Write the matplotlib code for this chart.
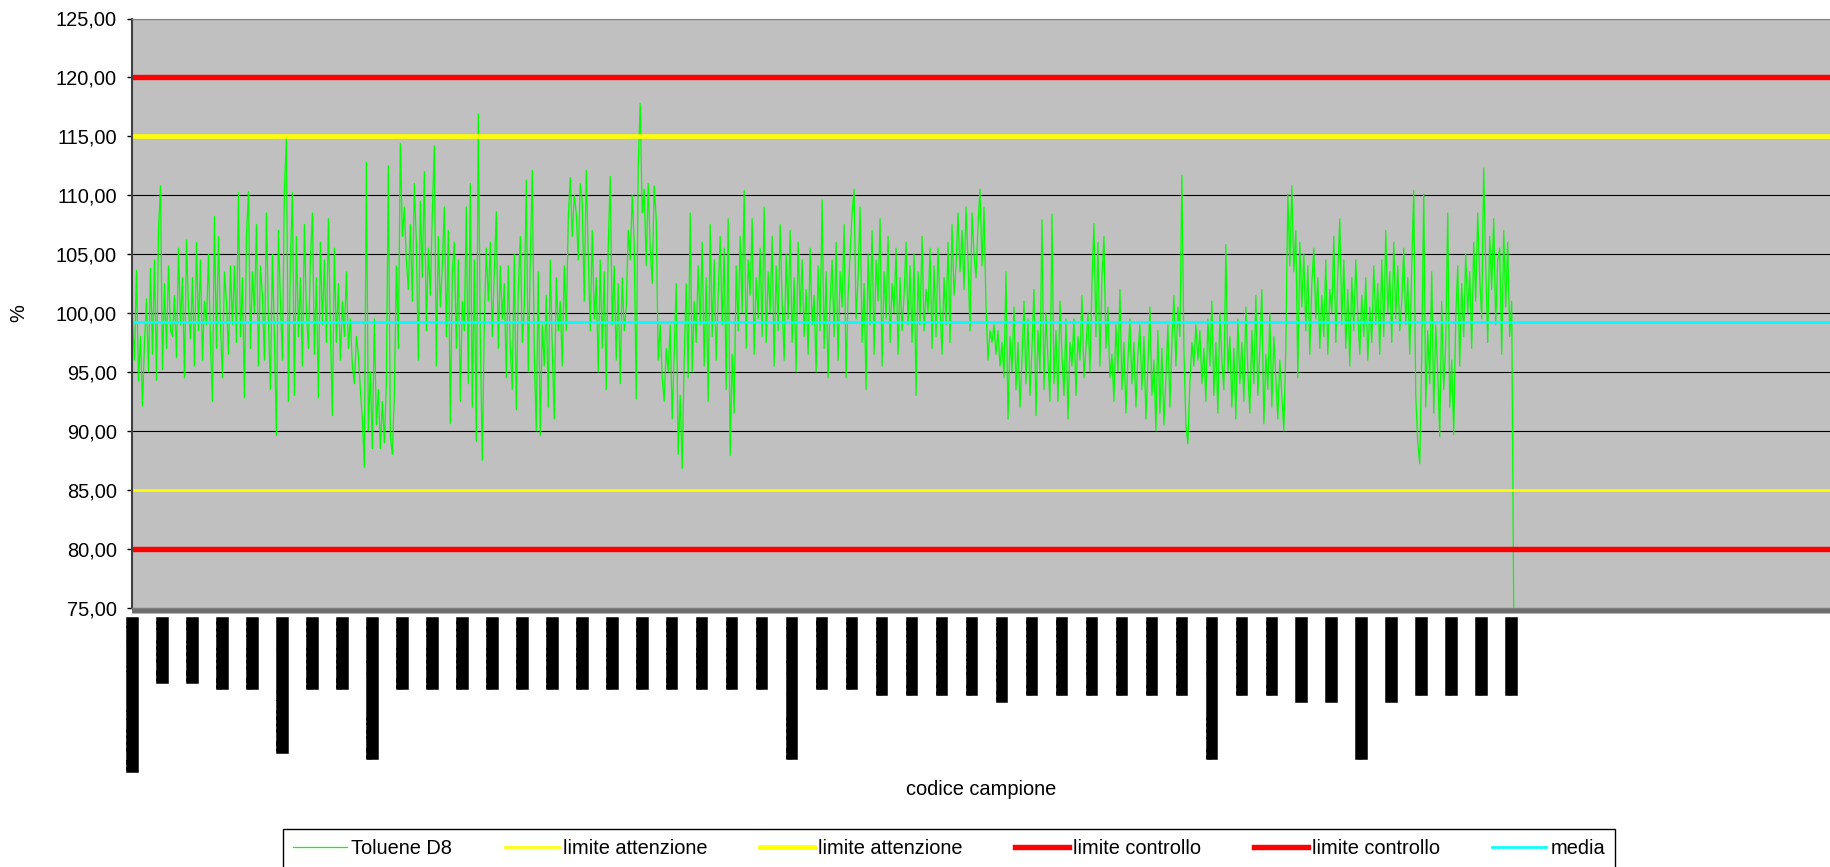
import numpy as np
import matplotlib
matplotlib.use("Agg")
from matplotlib import pyplot as plt
from matplotlib.ticker import FuncFormatter

# Toluene D8 (%), un valore ogni 2 categorie
toluene_1 = [
    99.5, 96.0, 103.6, 94.2, 98.0, 92.1, 97.5, 101.2, 95.0, 103.8,
    96.5, 104.5, 94.3, 107.0, 110.8, 95.2, 102.5, 97.0, 104.0, 98.5,
    98.0, 101.5, 96.2, 105.5, 99.0, 103.0, 94.5, 106.2, 100.5, 97.8,
    103.0, 95.5, 106.0, 98.5, 104.5, 96.0, 101.0, 99.0, 105.0, 97.5,
    92.5, 108.2, 97.0, 106.5, 99.0, 94.5, 103.5, 101.0, 96.5, 104.0,
    99.0, 104.0, 97.5, 110.2, 98.0, 103.0, 92.8, 106.5, 110.3, 97.0,
    103.5, 100.0, 107.5, 95.5, 104.0, 101.5, 96.0, 108.5, 99.5, 93.5,
    105.0, 98.0, 89.6, 107.0, 101.0, 96.0, 110.5, 114.9, 92.5, 104.5,
    110.2, 93.0, 106.5, 98.0, 103.0, 95.5, 107.5, 100.0, 97.0, 104.5,
    108.5, 96.5, 103.0, 92.8, 106.0, 99.0, 104.5, 97.5, 108.0, 98.5,
    91.3, 105.5, 97.5, 102.5, 96.0, 101.0, 98.0, 103.5, 97.0, 99.5,
    95.5, 94.0, 98.0, 96.5, 93.5, 91.0, 86.9, 112.8, 90.0, 95.0,
    88.5, 99.5, 90.5, 93.5, 88.5, 92.5, 89.0, 94.0, 112.5, 89.5,
    88.0, 93.0, 104.0, 97.0, 114.4, 106.5, 109.0, 104.5, 102.0, 107.5,
    101.0, 111.0, 106.0, 96.0, 109.5, 103.0, 112.0, 98.5, 105.5, 101.5,
    108.5, 114.2, 95.5, 106.5, 100.5, 104.0, 109.0, 98.0, 107.0, 90.6,
    103.5, 106.0, 97.0, 104.5, 92.5, 101.0, 98.5, 109.0, 94.0, 111.0,
    92.0, 104.5, 89.1, 116.9, 98.0,
]
toluene_2 = [
    87.5, 99.0, 105.5, 101.0, 106.0, 98.0, 103.5, 108.6, 97.0, 104.0,
    99.5, 102.5, 94.5, 104.0, 97.0, 93.5, 105.0, 91.8, 102.0, 106.5,
    97.5, 100.5, 111.3, 95.0, 104.5, 112.1, 96.5, 90.0, 103.5, 89.6,
    99.0, 95.5, 101.5, 92.0, 104.5, 97.0, 91.0, 103.0, 98.5, 101.0,
    95.5, 104.0, 98.5, 108.0, 111.5, 106.5, 110.0, 108.5, 104.5, 111.0,
    109.5, 101.0, 112.1, 105.0, 98.5, 107.0, 99.5, 103.0, 95.0, 104.5,
    97.0, 103.5, 93.5, 105.5, 111.6, 99.0, 104.0, 96.0, 102.5, 94.0,
    103.0, 98.5, 100.5, 107.0, 104.5, 110.0, 106.0, 92.7, 112.5, 117.8,
    108.5, 110.5, 104.0, 111.0, 105.5, 102.5, 110.8, 108.0, 96.0, 99.0,
    94.5, 92.5, 97.0, 95.0, 99.0, 91.0, 96.5, 102.5, 88.0, 93.0,
    86.8, 96.0, 102.5, 94.5, 108.5, 95.0, 101.0, 97.5, 104.0, 99.0,
    106.0, 95.5, 103.0, 92.5, 107.5, 98.0, 104.5, 96.0, 101.5, 106.5,
    99.0, 105.5, 93.5, 108.0, 87.9, 96.5, 91.5, 104.0, 98.5, 106.5,
    100.0, 110.4, 97.0, 104.5, 101.5, 108.0, 96.5, 103.0, 99.5, 105.5,
    98.0, 109.0, 97.5, 103.5, 100.0, 106.5, 95.5, 104.0, 98.5, 107.5,
    101.0, 96.0, 105.0, 99.5, 107.0, 97.5, 103.0, 95.0, 106.0, 100.0,
    104.5, 98.0, 102.0, 96.5, 105.5, 99.0, 101.5, 95.0, 104.0, 98.5,
    109.6, 97.0, 103.5, 94.5, 101.0,
]
toluene_3 = [
    104.5, 98.0, 106.0, 96.0, 103.5, 100.5, 107.5, 94.5, 101.5, 105.0,
    108.5, 110.5, 99.5, 103.0, 109.0, 97.5, 102.5, 93.5, 105.0, 99.0,
    107.0, 96.5, 104.5, 101.0, 108.0, 95.5, 103.5, 99.5, 106.5, 97.5,
    102.5, 100.0, 105.5, 96.5, 103.0, 98.5, 101.5, 106.0, 99.0, 104.0,
    97.5, 105.0, 93.0, 103.5, 99.0, 106.5, 98.5, 102.0, 100.0, 105.5,
    97.0, 104.0, 98.0, 105.5, 100.5, 96.5, 103.0, 99.0, 106.0, 97.5,
    107.5, 101.5, 104.0, 108.5, 103.5, 107.0, 102.0, 109.0, 104.5, 98.5,
    108.5, 105.0, 103.0, 107.5, 110.5, 104.0, 109.0, 100.5, 96.0, 98.5,
    97.5, 99.0, 96.5, 98.5, 95.5, 97.5, 94.5, 103.5, 91.0, 98.0,
    95.0, 100.5, 93.5, 97.5, 92.0, 96.0, 101.0, 94.0, 99.5, 93.0,
    97.0, 102.0, 91.3, 98.5, 95.0, 107.9, 93.5, 100.0, 96.0, 92.5,
    108.4, 94.0, 98.5, 92.5, 101.0, 96.5, 93.0, 99.5, 91.0, 97.5,
    95.5, 99.5, 93.0, 98.0, 96.0, 101.5, 94.5, 97.0, 100.0, 95.0,
    102.5, 107.6, 98.0, 106.0, 95.5, 103.0, 106.5, 97.0, 100.5, 94.5,
    96.5, 92.5, 99.0, 95.0, 102.0, 93.5, 97.5, 91.5, 96.0, 99.5,
    94.0, 97.5, 92.0, 96.5, 99.0, 93.5, 98.0, 91.0, 95.5, 100.5,
    93.0, 96.0, 90.0, 98.5, 91.5, 97.0, 90.5, 94.5, 99.0, 92.0,
    97.5, 101.5, 95.5, 100.5, 98.0,
]
toluene_4 = [
    111.7, 97.0, 90.5, 88.9, 94.0, 97.5, 95.5, 99.0, 96.0, 98.5,
    94.0, 97.0, 92.5, 99.5, 95.5, 101.0, 93.0, 97.5, 91.5, 100.0,
    96.0, 93.5, 105.8, 95.0, 98.0, 92.0, 97.0, 91.0, 99.5, 94.0,
    97.5, 92.5, 100.5, 95.0, 91.5, 98.5, 94.0, 101.5, 93.0, 97.0,
    102.0, 90.6, 96.5, 93.5, 100.0, 92.0, 98.0, 94.5, 91.0, 96.0,
    93.0, 90.0, 97.0, 110.1, 104.0, 110.8, 103.5, 107.0, 94.5, 106.0,
    100.5, 105.0, 98.5, 104.0, 96.5, 102.5, 105.5, 99.5, 103.0, 97.0,
    101.5, 98.0, 104.5, 96.5, 102.0, 100.0, 106.5, 97.5, 103.5, 108.0,
    99.0, 104.5, 97.0, 102.0, 95.5, 103.0, 98.5, 104.5, 100.0, 96.5,
    101.5, 98.0, 103.0, 96.0, 100.5, 97.5, 104.0, 99.0, 102.5, 96.5,
    104.5, 98.0, 107.0, 100.0, 103.5, 97.5, 106.0, 99.5, 104.0, 98.5,
    101.0, 105.5, 99.0, 103.0, 96.5, 104.0, 110.4, 93.0, 89.0, 87.2,
    96.5, 110.1, 92.0, 98.5, 94.0, 103.5, 91.5, 99.0, 95.0, 89.5,
    101.0, 93.5, 97.5, 108.5, 92.0, 96.0, 89.7, 99.5, 104.0, 95.5,
    102.5, 98.0, 105.0, 100.0, 103.5, 97.0, 106.0, 101.0, 108.5, 103.0,
    99.5, 112.3, 104.0, 97.5, 106.5, 102.0, 108.0, 99.0, 104.5, 105.5,
    96.5, 107.0, 100.5, 106.0, 98.0, 101.0,
    75.0,
]
toluene_d8 = toluene_1 + toluene_2 + toluene_3 + toluene_4

limite_attenzione = [85.0, 115.0]
limite_controllo = [80.0, 120.0]
media = 99.2
y_ticks = [75, 80, 85, 90, 95, 100, 105, 110, 115, 120, 125]

n_categorie = 1700
passo_dati = 2
passo_etichette = 30

codici = [
    "07-0001 bianco di metodo", "07-0031 A1", "07-0061 A2", "07-0091 A10",
    "07-0121 A11", "07-0151 bianco strum.", "07-0181 A12", "07-0211 A13",
    "07-0241 materiale rif.", "07-0271 A14", "07-0301 A15", "07-0331 A16",
    "07-0361 A17", "07-0391 A18", "07-0421 A19", "07-0451 A20",
    "07-0481 A21", "07-0511 A22", "07-0541 A23", "07-0571 A24",
    "07-0601 A25", "07-0631 A26", "07-0661 materiale rif.", "07-0691 A27",
    "07-0721 A28", "08-0751 A101", "08-0781 A102", "08-0811 A103",
    "08-0841 A104", "08-0871 A105b", "08-0901 A106", "08-0931 A107",
    "08-0961 A108", "08-0991 A109", "08-1021 A110", "08-1051 A111",
    "08-1081 materiale rif.", "08-1111 A112", "08-1141 A113", "08-1171 A114b",
    "08-1201 A115b", "08-1231 materiale rif.", "08-1261 A116b", "08-1291 A117",
    "08-1321 A118", "08-1351 A119", "08-1381 A120",
]

plt.rcParams['font.family'] = ['Liberation Sans', 'DejaVu Sans']

W, H = 1831, 867
fig = plt.figure(figsize=(W / 100, H / 100), dpi=100)
ax = fig.add_axes([132 / W, 1 - 607.5 / H, 1699 / W, 589 / H])
ax.set_facecolor('#c0c0c0')

x = np.arange(len(toluene_d8)) * passo_dati
x_tutto = [-0.5, n_categorie - 0.5]

ax.plot(x, toluene_d8, color='#00ff00', lw=0.9, label='Toluene D8')
ax.plot(x_tutto, [limite_attenzione[0]] * 2, color='#ffff00', lw=1.9, label='limite attenzione')
ax.plot(x_tutto, [limite_attenzione[1]] * 2, color='#ffff00', lw=3.3, label='limite attenzione')
ax.plot(x_tutto, [limite_controllo[0]] * 2, color='#ff0000', lw=3.9, label='limite controllo')
ax.plot(x_tutto, [limite_controllo[1]] * 2, color='#ff0000', lw=3.9, label='limite controllo')
ax.plot(x_tutto, [media] * 2, color='#00ffff', lw=1.9, label='media')

ax.set_xlim(x_tutto)
ax.set_ylim(y_ticks[0], y_ticks[-1])
ax.set_yticks(y_ticks)
ax.yaxis.set_major_formatter(FuncFormatter(lambda v, p: f"{v:.2f}".replace('.', ',')))
ax.yaxis.grid(True, color='black', lw=0.8)
ax.set_axisbelow(True)

ax.set_xticks(np.arange(len(codici)) * passo_etichette)
ax.set_xticklabels(codici, rotation=90, fontfamily='DejaVu Sans Mono', fontsize=7.6,
                   color='black')
for t in ax.get_xticklabels():
    t.set_bbox(dict(facecolor='black', edgecolor='black', lw=1.1, pad=0.2))
ax.set_xticks(np.arange(n_categorie), minor=True)
ax.tick_params(axis='x', which='both', length=3.6, width=0.5, color='#303030')
ax.tick_params(axis='x', which='major', pad=4.3)
ax.tick_params(axis='y', length=3.6, width=1, pad=7.2, labelsize=14.4)

ax.spines['right'].set_visible(False)
ax.spines['left'].set_color('#404040')
ax.spines['left'].set_linewidth(1.5)
ax.spines['top'].set_color('#808080')
ax.spines['bottom'].set_color('#808080')

ax.set_ylabel('%', fontsize=14.4)
ax.yaxis.set_label_coords(-0.0612, 0.5)
ax.set_xlabel('codice campione', fontsize=14.4)
ax.xaxis.set_label_coords(0.5, -0.293)

top = 1 - 829 / H
leg = ax.legend(loc='upper left', bbox_to_anchor=(283 / W, -0.05, 1332 / W, top + 0.05),
                bbox_transform=fig.transFigure, mode='expand', ncol=6, fontsize=14.4,
                fancybox=False, edgecolor='black', framealpha=1, handlelength=2.7,
                handletextpad=0.2, borderaxespad=0, borderpad=0.5)
leg.get_frame().set_linewidth(1.0)

fig.savefig('out.png', dpi=100)
